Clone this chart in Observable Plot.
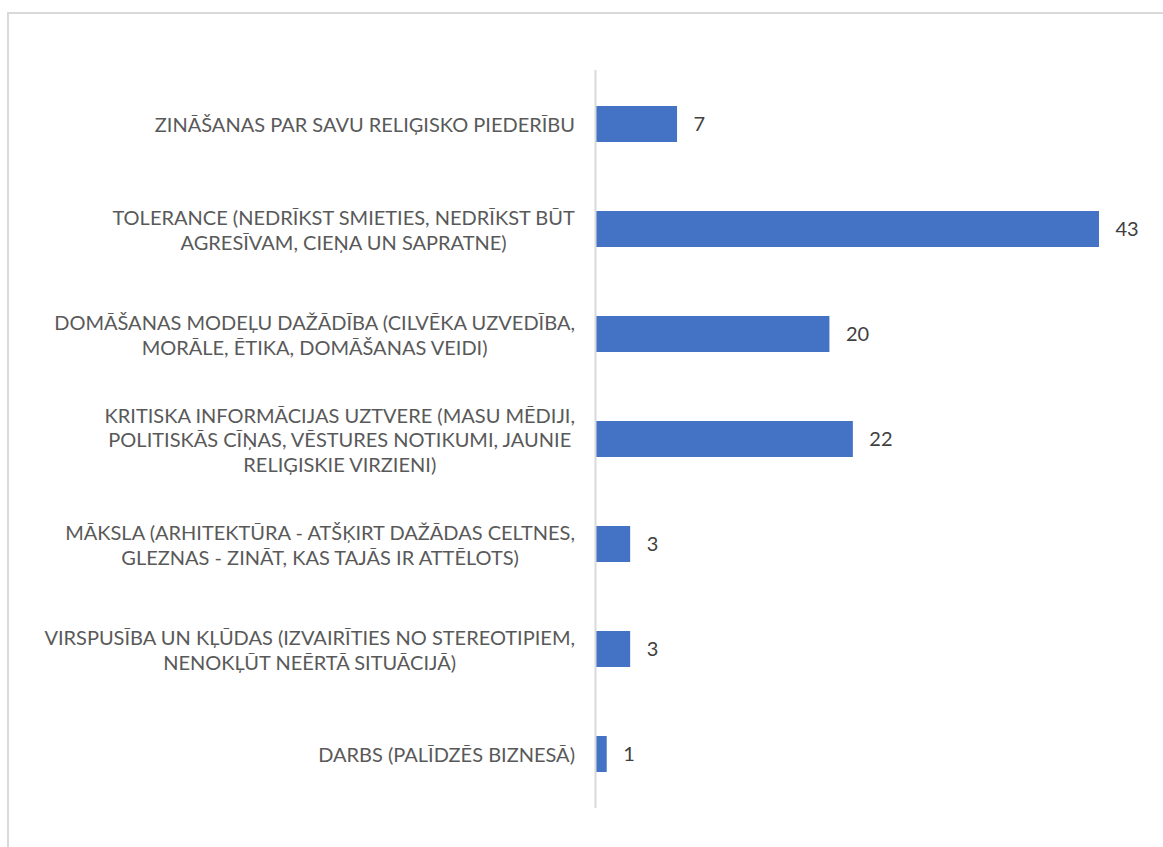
<!DOCTYPE html>
<html>
<head>
<meta charset="utf-8">
<script src="https://cdn.jsdelivr.net/npm/d3@7"></script>
<script src="https://cdn.jsdelivr.net/npm/@observablehq/plot@0.6"></script>
<style>
  html, body { margin: 0; padding: 0; background: #fff; width: 1163px; height: 847px; overflow: hidden; }
  #frame { position: absolute; left: 7px; top: 12px; width: 1200px; height: 900px; border: 2px solid #d9d9d9; box-sizing: border-box; }
  #chart { position: absolute; left: 0; top: 0; }
</style>
</head>
<body>
<div id="frame"></div>
<div id="chart"></div>
<script>
const categories = [
  "ZINĀŠANAS PAR SAVU RELIĢISKO PIEDERĪBU",
  "TOLERANCE (NEDRĪKST SMIETIES, NEDRĪKST BŪT\nAGRESĪVAM, CIEŅA UN SAPRATNE)",
  "DOMĀŠANAS MODEĻU DAŽĀDĪBA (CILVĒKA UZVEDĪBA,\nMORĀLE, ĒTIKA, DOMĀŠANAS VEIDI)",
  "KRITISKA INFORMĀCIJAS UZTVERE (MASU MĒDIJI,\nPOLITISKĀS CĪŅAS, VĒSTURES NOTIKUMI, JAUNIE\nRELIĢISKIE VIRZIENI)",
  "MĀKSLA (ARHITEKTŪRA - ATŠĶIRT DAŽĀDAS CELTNES,\nGLEZNAS - ZINĀT, KAS TAJĀS IR ATTĒLOTS)",
  "VIRSPUSĪBA UN KĻŪDAS (IZVAIRĪTIES NO STEREOTIPIEM,\nNENOKĻŪT NEĒRTĀ SITUĀCIJĀ)",
  "DARBS (PALĪDZĒS BIZNESĀ)"
];
const values = [7, 43, 20, 22, 3, 3, 1];

const data = categories.map((c, i) => ({category: c, value: values[i]}));

const FONT = "Lato, 'Open Sans', sans-serif";

const chart = Plot.plot({
  width: 1163,
  height: 847,
  marginLeft: 595,
  marginRight: 64,
  marginTop: 70,
  marginBottom: 39,
  style: {fontFamily: FONT, fontSize: "20px", background: "transparent"},
  x: {domain: [0, 43], axis: null},
  y: {domain: categories, axis: null, paddingInner: 0.66, paddingOuter: 0.33},
  marks: [
    Plot.barX(data, {y: "category", x: "value", fill: "#4472C4"}),
    Plot.ruleX([0], {stroke: "#d9d9d9", strokeWidth: 2}),
    Plot.text(data, {y: "category", x: "value", text: d => String(d.value), textAnchor: "start", dx: 16, fill: "#404040", fontSize: 20}),
    Plot.text(data, {y: "category", x: 0, text: "category", textAnchor: "middle", lineAnchor: "middle", lineHeight: 1.22, fill: "#595959", fontSize: 20})
  ]
});

document.getElementById("chart").appendChild(chart);

// Right-align each centered label block so its right edge sits left of the axis
const rightEdge = 575;
const textGroups = chart.querySelectorAll('g[aria-label="text"]');
const labelGroup = textGroups[textGroups.length - 1];
labelGroup.querySelectorAll('text').forEach(el => {
  const r = el.getBoundingClientRect();
  const shift = rightEdge - r.right;
  const t = el.getAttribute("transform") || "";
  el.setAttribute("transform", (t ? t + " " : "") + `translate(${shift},0)`);
});
</script>
</body>
</html>
